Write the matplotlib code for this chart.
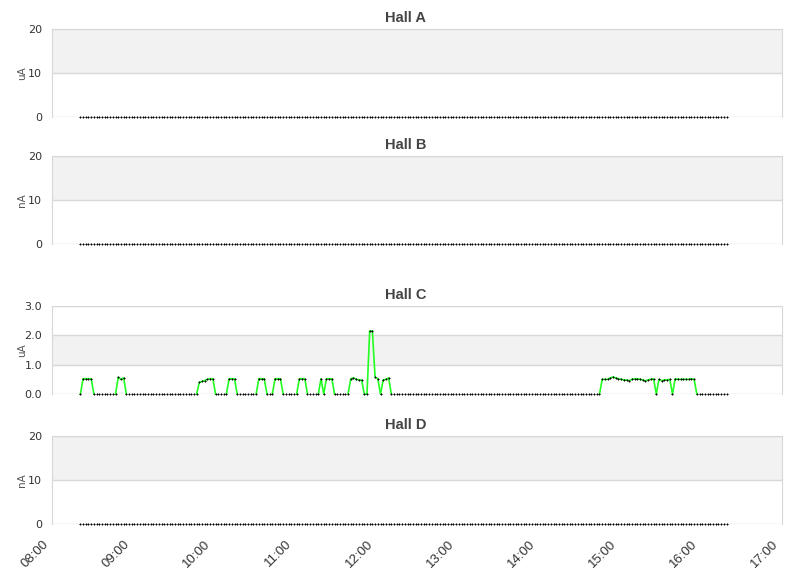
import numpy as np
from matplotlib import pyplot as plt
from matplotlib import transforms

# readings every 2 minutes, 08:21 .. 16:19
start_time = "08:21"
step_min = 2
n_readings = 240

halls = ["Hall A", "Hall B", "Hall C", "Hall D"]
units = ["uA", "nA", "uA", "nA"]
y_ticks = {
    "Hall A": [0, 10, 20],
    "Hall B": [0, 10, 20],
    "Hall C": [0.0, 1.0, 2.0, 3.0],
    "Hall D": [0, 10, 20],
}
x_ticks = [8, 9, 10, 11, 12, 13, 14, 15, 16, 17]
x_labels = ["08:00", "09:00", "10:00", "11:00", "12:00",
            "13:00", "14:00", "15:00", "16:00", "17:00"]

# Hall C beam current: nonzero runs (start time -> readings), zero elsewhere
hall_c_pulses = {
    "08:23": [0.52, 0.52, 0.52, 0.52],
    "08:49": [0.57, 0.50, 0.55],
    "09:49": [0.40, 0.43, 0.46, 0.50, 0.52, 0.52],
    "10:11": [0.52, 0.52, 0.52],
    "10:33": [0.52, 0.52, 0.52],
    "10:45": [0.52, 0.52, 0.52],
    "11:03": [0.52, 0.52, 0.52],
    "11:19": [0.52],
    "11:23": [0.52, 0.52, 0.52],
    "11:41": [0.52, 0.55, 0.50, 0.48, 0.48],
    "11:55": [2.15, 2.15, 0.57, 0.52],
    "12:05": [0.48, 0.50, 0.55],
    "14:47": [0.50, 0.50, 0.50, 0.55, 0.58, 0.55, 0.52, 0.50, 0.48, 0.48,
              0.45, 0.50, 0.52, 0.52, 0.50, 0.48, 0.45, 0.48, 0.50, 0.52],
    "15:29": [0.50, 0.45, 0.48, 0.48, 0.50],
    "15:41": [0.52, 0.50, 0.50, 0.50, 0.50, 0.50, 0.52, 0.50],
}


def to_hours(s):
    h, m = s.split(":")
    return int(h) + int(m) / 60.0


t0 = to_hours(start_time)
times = t0 + np.arange(n_readings) * step_min / 60.0

values = {h: np.zeros(n_readings) for h in halls}
for k, v in hall_c_pulses.items():
    i = int(round((to_hours(k) - t0) * 60 / step_min))
    values["Hall C"][i:i + len(v)] = v


def line_mask(y):
    # green line only where at least one neighbour is nonzero
    out = y.astype(float).copy()
    for i in range(len(y)):
        left = y[i - 1] if i > 0 else 0
        right = y[i + 1] if i < len(y) - 1 else 0
        if y[i] == 0 and left == 0 and right == 0:
            out[i] = np.nan
    return out


fig = plt.figure(figsize=(8.11, 5.78), dpi=100)
left, width, height = 52 / 811, 730 / 811, 88 / 578
tops = [29, 156, 306, 436]
grid_col = "#d8d8d8"

for n, hall in enumerate(halls):
    ax = fig.add_axes([left, (578 - tops[n] - 88) / 578, width, height])
    ticks = y_ticks[hall]
    ax.set_xlim(8, 17)
    ax.set_ylim(ticks[0], ticks[-1])
    # alternating bands
    for j in range(len(ticks) - 1):
        if j % 2 == 1:
            ax.axhspan(ticks[j], ticks[j + 1], color="#f2f2f2", zorder=0, lw=0)
    for t in ticks:
        ax.axhline(t, color=grid_col, lw=1, zorder=1)
    for s in ax.spines.values():
        s.set_color(grid_col)
    ax.spines["bottom"].set_visible(False)

    y = values[hall]
    ax.plot(times, line_mask(y), color="#22ff22", lw=1.2, zorder=2, clip_on=False)
    ax.plot(times, y, ls="none", marker="+", ms=1.8, mew=0.75, color="black",
            zorder=3, clip_on=False)

    ax.set_yticks(ticks)
    if hall == "Hall C":
        ax.set_yticklabels(["%.1f" % t for t in ticks])
    ax.tick_params(axis="y", length=0, pad=7, labelsize=8, labelcolor="#333333")
    ax.set_ylabel(units[n], fontsize=7.5, color="#555555")
    ax.yaxis.set_label_coords(-0.034, 0.5)
    ax.set_title(hall, fontsize=10.5, fontweight="bold", color="#444444",
                 family="Liberation Sans", pad=5, x=(405.5 - 52) / 730)

    ax.set_xticks(x_ticks)
    ax.tick_params(axis="x", length=0, pad=10)
    if n == len(halls) - 1:
        ax.set_xticklabels(x_labels, rotation=45, ha="right", va="top",
                           rotation_mode="anchor", fontsize=9.5,
                           family="Liberation Sans", color="#333333")
        shift = transforms.ScaledTranslation(-7 / 72, 0, fig.dpi_scale_trans)
        for lab in ax.get_xticklabels():
            lab.set_transform(lab.get_transform() + shift)
    else:
        ax.set_xticklabels([])

plt.savefig("out.png", dpi=100)
